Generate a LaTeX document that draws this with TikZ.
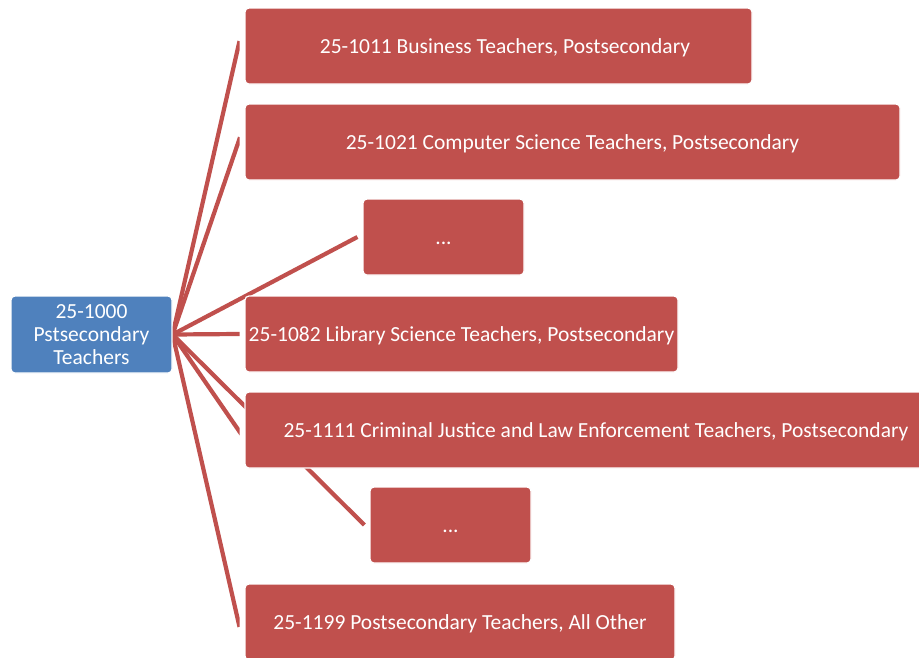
\documentclass[tikz,border=0pt]{standalone}
\usepackage{fontspec}
\setmainfont{Carlito}
\usetikzlibrary{backgrounds}
\definecolor{redbox}{HTML}{C0504D}
\definecolor{bluebox}{HTML}{4F81BD}
\begin{document}
\begin{tikzpicture}[x=1pt,y=-1pt,
  base/.style={rectangle, rounded corners=4pt, draw=white, line width=1.2pt,
    inner sep=0pt, text=white, font=\fontsize{21.5}{23}\selectfont, align=center},
  box/.style={base, fill=redbox, minimum height=76pt, text height=19pt, text depth=4.5pt},
  rootbox/.style={base, fill=bluebox},
  link/.style={draw=redbox, line width=4.2pt, line cap=butt}]
\useasboundingbox (0,0) rectangle (919,657);
\node[rootbox, minimum width=161pt, minimum height=77pt] (root) at (91.5,334.5) {25-1000\\Pstsecondary\\Teachers};
\node[box, minimum width=507pt] (b1) at (498.5,46) {\hspace*{13pt}25-1011 Business Teachers, Postsecondary};
\node[box, minimum width=655pt] (b2) at (572.5,142) {25-1021 Computer Science Teachers, Postsecondary};
\node[box, minimum width=161pt] (b3) at (443.5,237) {...};
\node[box, minimum width=433pt] (b4) at (461.5,334) {25-1082 Library Science Teachers, Postsecondary};
\node[box, minimum width=702pt] (b5) at (596,430) {25-1111 Criminal Justice and Law Enforcement Teachers, Postsecondary};
\node[box, minimum width=161pt] (b6) at (450.5,525) {...};
\node[box, minimum width=430pt] (b7) at (460,622) {25-1199 Postsecondary Teachers, All Other};
\begin{pgfonlayer}{background}
  \begin{scope}
    \clip (0,0) rectangle (239.5,657);
    \foreach \t in {b1,b2,b4,b5,b7}
      \draw[link, shorten >=-5pt] (root.east) -- ([xshift=-6pt]\t.west);
  \end{scope}
  \draw[link] (root.east) -- ([xshift=-5pt]b3.west);
  \draw[link] (root.east) -- ([xshift=-5pt]b6.west);
\end{pgfonlayer}
\end{tikzpicture}
\end{document}
